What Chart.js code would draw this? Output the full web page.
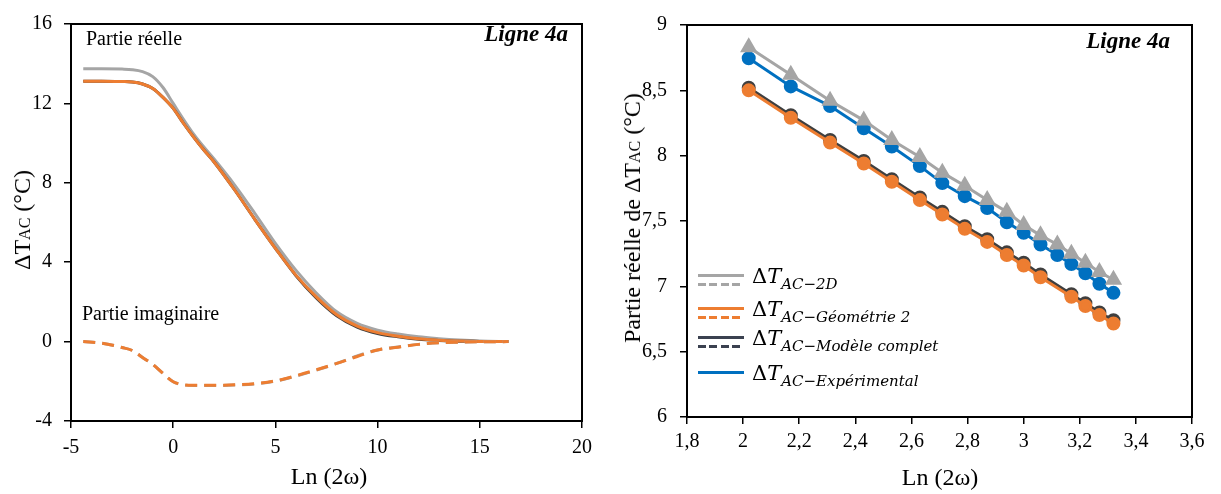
<!DOCTYPE html>
<html lang="fr">
<head>
<meta charset="UTF-8">
<title>Ligne 4a - ΔTAC</title>
<script src="https://cdn.jsdelivr.net/npm/chart.js"></script>
<style>
  html, body { margin: 0; padding: 0; background: #fff; }
  #wrap { position: relative; width: 1221px; height: 494px; overflow: hidden;
          font-family: "Liberation Serif", "Times New Roman", serif; color: #000; }
  canvas { position: absolute; top: 0; }
  #leftChart { left: 0; }
  #rightChart { left: 600px; }
  .txt { position: absolute; white-space: nowrap; line-height: 1; }
  .ytitle { transform: translate(-50%, -50%) rotate(-90deg); font-size: 24px; }
  .xtitle { transform: translate(-50%, -50%); font-size: 24px; }
  .sc { font-size: 16px; }
  .tag { font-weight: bold; font-style: italic; font-size: 23px; transform: translate(-100%, -50%); }
  .note { font-size: 20px; transform: translateY(-50%); }
  .leg-line { position: absolute; height: 3px; width: 46px; }
  .leg-txt { position: absolute; font-family: "DejaVu Serif", serif; font-size: 21px; white-space: nowrap; line-height: 1; }
  .leg-txt i { font-style: italic; }
  .leg-txt sub { font-style: italic; font-size: 15px; vertical-align: -6px; }
</style>
</head>
<body>
<div id="wrap">
  <canvas id="leftChart" width="600" height="494"></canvas>
  <canvas id="rightChart" width="621" height="494"></canvas>

  <div class="txt ytitle" style="left:22px; top:220px;">ΔT<span class="sc">AC</span> (°C)</div>
  <div class="txt xtitle" style="left:329px; top:476px;">Ln (2ω)</div>
  <div class="txt tag" style="left:568px; top:33px;">Ligne 4a</div>
  <div class="txt note" style="left:86px; top:38px;">Partie réelle</div>
  <div class="txt note" style="left:82px; top:313px;">Partie imaginaire</div>

  <div class="txt ytitle" style="left:632px; top:218px;">Partie réelle de ΔT<span class="sc">AC</span> (°C)</div>
  <div class="txt xtitle" style="left:940px; top:477px;">Ln (2ω)</div>
  <div class="txt tag" style="left:1170px; top:40px;">Ligne 4a</div>
  <div id="legend"></div>
</div>

<script>
// ---- left chart: full frequency sweep ----
const sweepX      = [-4.4, -3.5, -2.5, -2, -1.5, -1, -0.5, 0, 0.5, 1, 1.5, 2, 3, 4, 5, 6, 7, 8, 9, 10, 11, 12, 13, 14, 15, 16.4];
const reel2D      = [13.75, 13.75, 13.73, 13.7, 13.6, 13.35, 12.8, 12.0, 11.2, 10.45, 9.8, 9.2, 7.9, 6.45, 4.95, 3.6, 2.45, 1.5, 0.92, 0.58, 0.38, 0.24, 0.15, 0.08, 0.03, 0];
const reelGeo2    = [13.12, 13.12, 13.1, 13.08, 12.98, 12.75, 12.3, 11.75, 11.0, 10.3, 9.65, 9.05, 7.65, 6.15, 4.7, 3.35, 2.25, 1.35, 0.78, 0.45, 0.27, 0.14, 0.07, 0.03, 0.01, 0];
const reelComplet = [13.12, 13.12, 13.1, 13.08, 12.98, 12.75, 12.3, 11.75, 11.0, 10.3, 9.65, 9.05, 7.65, 6.15, 4.7, 3.33, 2.2, 1.3, 0.73, 0.41, 0.24, 0.12, 0.06, 0.02, 0.01, 0];
const imag2D      = [0, -0.08, -0.3, -0.45, -0.8, -1.15, -1.6, -2.02, -2.18, -2.21, -2.21, -2.21, -2.19, -2.13, -1.99, -1.74, -1.44, -1.1, -0.72, -0.42, -0.27, -0.14, -0.06, -0.03, -0.01, 0];
const imagGeo2    = [0, -0.08, -0.3, -0.45, -0.8, -1.15, -1.6, -2.02, -2.17, -2.2, -2.2, -2.2, -2.18, -2.12, -1.98, -1.72, -1.42, -1.1, -0.75, -0.42, -0.28, -0.14, -0.06, -0.03, -0.01, 0];

// ---- right chart: zoom on the measured range ----
const lnX       = [2.02, 2.17, 2.31, 2.43, 2.53, 2.63, 2.71, 2.79, 2.87, 2.94, 3.0, 3.06, 3.12, 3.17, 3.22, 3.27, 3.32];
const zoom2D    = [8.83, 8.62, 8.42, 8.27, 8.12, 7.99, 7.87, 7.77, 7.66, 7.57, 7.47, 7.39, 7.32, 7.25, 7.18, 7.11, 7.05];
const zoomExp   = [8.745, 8.53, 8.38, 8.21, 8.07, 7.92, 7.79, 7.69, 7.6, 7.49, 7.41, 7.32, 7.24, 7.17, 7.1, 7.02, 6.95];
const zoomGeo2  = [8.5, 8.29, 8.1, 7.94, 7.8, 7.66, 7.55, 7.44, 7.34, 7.24, 7.16, 7.07, null, 6.92, 6.85, 6.78, 6.715];
const zoomModel = [8.52, 8.31, 8.12, 7.96, 7.82, 7.68, 7.57, 7.46, 7.36, 7.26, 7.18, 7.09, null, 6.94, 6.87, 6.8, 6.74];

const legendNames = ['AC−2D', 'AC−Géométrie 2', 'AC−Modèle complet', 'AC−Expérimental'];
const legendColors = ['#A5A5A5', '#ED7D31', '#3B4150', '#0070C0'];
const legendDashed = [true, true, true, false];

const GREY = '#A5A5A5', ORANGE = '#ED7D31', DARK = '#3F3F3F', BLUE = '#0070C0';

function pts(xs, ys) {
  return xs.map((x, i) => ({ x: x, y: ys[i] }));
}
function comma(v) {
  return String(Math.round(v * 10) / 10).replace('.', ',');
}

const frame = {
  id: 'frame',
  afterDatasetsDraw(chart) {
    const a = chart.chartArea, ctx = chart.ctx;
    ctx.save();
    ctx.strokeStyle = '#000';
    ctx.lineWidth = 2;
    ctx.strokeRect(a.left, a.top, a.right - a.left, a.bottom - a.top);
    ctx.restore();
  }
};

const tickFont = { family: "'Liberation Serif', serif", size: 20 };

function axis(min, max, step, fitSize, isY, pad) {
  return {
    type: 'linear', min: min, max: max,
    grid: { display: true, drawOnChartArea: false, drawTicks: true, tickLength: 7, color: '#000', lineWidth: 1.5 },
    border: { display: true, color: '#000', width: 2 },
    ticks: { stepSize: step, color: '#000', font: tickFont, padding: pad, callback: v => comma(v) },
    afterFit(scale) { if (isY) scale.width = fitSize; else scale.height = fitSize; }
  };
}

const baseOpts = {
  responsive: false,
  animation: false,
  plugins: { legend: { display: false }, tooltip: { enabled: false } }
};

new Chart(document.getElementById('leftChart'), {
  type: 'line',
  data: {
    datasets: [
      { data: pts(sweepX, imagGeo2), borderColor: ORANGE, borderWidth: 3, borderDash: [12, 7], pointRadius: 0, cubicInterpolationMode: 'monotone', order: 1 },
      { data: pts(sweepX, imag2D), borderColor: GREY, borderWidth: 3, borderDash: [12, 7], pointRadius: 0, cubicInterpolationMode: 'monotone', order: 2 },
      { data: pts(sweepX, reelGeo2), borderColor: ORANGE, borderWidth: 3, pointRadius: 0, cubicInterpolationMode: 'monotone', order: 3 },
      { data: pts(sweepX, reelComplet), borderColor: DARK, borderWidth: 3, pointRadius: 0, cubicInterpolationMode: 'monotone', order: 4 },
      { data: pts(sweepX, reel2D), borderColor: GREY, borderWidth: 3, pointRadius: 0, cubicInterpolationMode: 'monotone', order: 5 }
    ]
  },
  options: Object.assign({}, baseOpts, {
    layout: { padding: { top: 19, right: 13, left: 0, bottom: 0 } },
    scales: {
      x: axis(-5, 20, 5, 73, false, 8),
      y: axis(-4, 16, 4, 71, true, 12)
    }
  }),
  plugins: [frame]
});

new Chart(document.getElementById('rightChart'), {
  type: 'line',
  data: {
    datasets: [
      { data: pts(lnX, zoom2D), borderColor: GREY, backgroundColor: GREY, borderWidth: 3, pointStyle: 'triangle', pointRadius: 7, spanGaps: true, order: 1 },
      { data: pts(lnX, zoomExp), borderColor: BLUE, backgroundColor: BLUE, borderWidth: 3, pointStyle: 'circle', pointRadius: 5.5, spanGaps: true, order: 2 },
      { data: pts(lnX, zoomGeo2), borderColor: ORANGE, backgroundColor: ORANGE, borderWidth: 3, pointStyle: 'circle', pointRadius: 5.5, spanGaps: true, order: 3 },
      { data: pts(lnX, zoomModel), borderColor: DARK, backgroundColor: DARK, borderWidth: 3, pointStyle: 'circle', pointRadius: 5.5, spanGaps: true, order: 4 }
    ]
  },
  options: Object.assign({}, baseOpts, {
    layout: { padding: { top: 19, right: 29, left: 0, bottom: 0 } },
    scales: {
      x: axis(1.8, 3.6, 0.2, 77, false, 6),
      y: axis(6, 9, 0.5, 87, true, 13)
    }
  }),
  plugins: [frame]
});

// legend with solid + dashed samples and subscripted labels
const legendRowsY = [275, 308, 337, 372];
const leg = document.getElementById('legend');
legendNames.forEach((name, i) => {
  const y = legendRowsY[i];
  const solid = document.createElement('div');
  solid.className = 'leg-line';
  solid.style.cssText = 'left:698px; top:' + (y - 1) + 'px; background:' + legendColors[i] + ';';
  leg.appendChild(solid);
  if (legendDashed[i]) {
    const dash = document.createElement('div');
    dash.className = 'leg-line';
    dash.style.cssText = 'left:698px; top:' + (y + 8) + 'px; background: repeating-linear-gradient(to right, ' +
      legendColors[i] + ' 0 8px, transparent 8px 11.5px);';
    leg.appendChild(dash);
  }
  const t = document.createElement('div');
  t.className = 'leg-txt';
  t.style.cssText = 'left:752px; top:' + (y - 9) + 'px;';
  t.innerHTML = 'Δ<i>T</i><sub>' + name + '</sub>';
  leg.appendChild(t);
});
</script>
</body>
</html>
